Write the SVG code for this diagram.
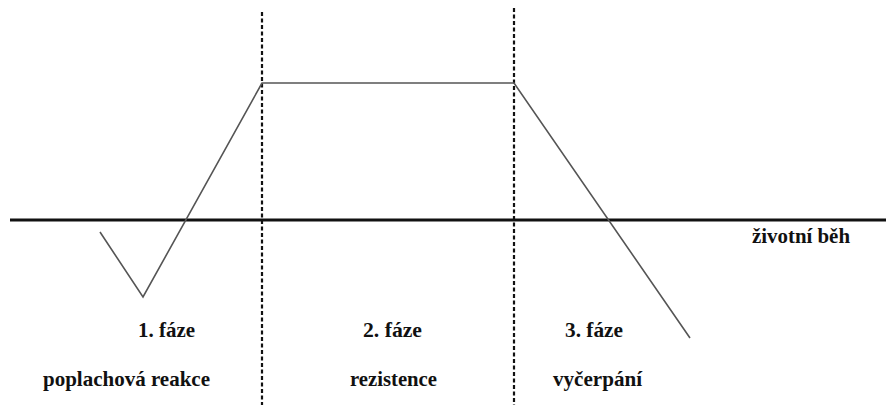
<svg xmlns="http://www.w3.org/2000/svg" width="886" height="405" viewBox="0 0 886 405">
<style>
.axis{stroke:#111;stroke-width:3;fill:none}
.curve{stroke:#555;stroke-width:1.6;fill:none;stroke-linejoin:miter}
.div{stroke:#111;stroke-width:2.2;stroke-dasharray:4 2.5;fill:none}
</style>
<rect width="886" height="405" fill="#fff"/>
<g id="connectors">
<line class="div" x1="262" y1="12" x2="262" y2="405"/>
<line class="div" x1="514" y1="8" x2="514" y2="405"/>
<line class="axis" x1="10" y1="220" x2="886" y2="220"/>
<polyline class="curve" points="100,232 143,297 262,83 514,83 690,338"/>
</g>
<g font-family="Liberation Serif, Times New Roman, serif" font-weight="bold" font-size="21" fill="#111">
<g id="axis-label"><text x="752" y="243" textLength="98" lengthAdjust="spacingAndGlyphs">životní běh</text></g>
<g id="phase1">
<text x="138" y="337" textLength="57" lengthAdjust="spacingAndGlyphs">1. fáze</text>
<text x="43" y="386" textLength="167" lengthAdjust="spacingAndGlyphs">poplachová reakce</text>
</g>
<g id="phase2">
<text x="363" y="337" textLength="59" lengthAdjust="spacingAndGlyphs">2. fáze</text>
<text x="350" y="386" textLength="87" lengthAdjust="spacingAndGlyphs">rezistence</text>
</g>
<g id="phase3">
<text x="565" y="337" textLength="58" lengthAdjust="spacingAndGlyphs">3. fáze</text>
<text x="553" y="386" textLength="89" lengthAdjust="spacingAndGlyphs">vyčerpání</text>
</g>
</g>
</svg>
